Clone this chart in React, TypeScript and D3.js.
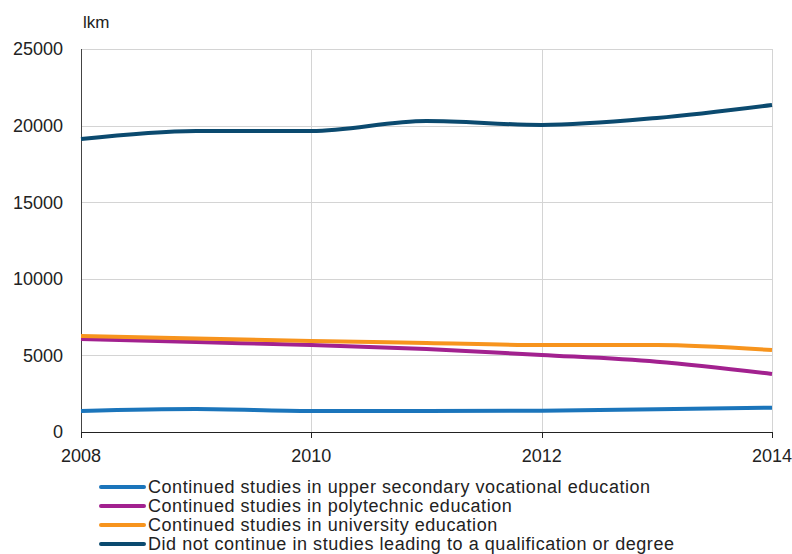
import * as d3 from "d3";
import { useEffect, useRef } from "react";

const years = [2008, 2009, 2010, 2011, 2012, 2013, 2014];
const vocational = [1370, 1500, 1370, 1370, 1390, 1480, 1590];
const polytechnic = [6070, 5870, 5680, 5420, 5030, 4590, 3790];
const university = [6270, 6100, 5940, 5810, 5680, 5680, 5350];
const notContinued = [19125, 19650, 19650, 20300, 20040, 20500, 21350];
const yTicks = [0, 5000, 10000, 15000, 20000, 25000];
const xTicks = [2008, 2010, 2012, 2014];

const series = [
  { name: "Continued studies in upper secondary vocational education", values: vocational, color: "#1b75bb" },
  { name: "Continued studies in polytechnic education", values: polytechnic, color: "#a2218f" },
  { name: "Continued studies in university education", values: university, color: "#f7941d" },
  { name: "Did not continue in studies leading to a qualification or degree", values: notContinued, color: "#0b4a6f" },
];

const width = 792;
const height = 554;
const font = "'Liberation Sans', Arial, sans-serif";

export default function App() {
  const ref = useRef<SVGSVGElement | null>(null);

  useEffect(() => {
    const svg = d3.select(ref.current);
    svg.selectAll("*").remove();

    const x = d3.scaleLinear().domain([2008, 2014]).range([81, 772]);
    const y = d3.scaleLinear().domain([0, 25000]).range([432, 49]);

    // grid
    const grid = svg.append("g").attr("stroke", "#d4d4d4").attr("stroke-width", 1);
    grid
      .selectAll("line.h")
      .data(yTicks.slice(1))
      .join("line")
      .attr("x1", x(2008))
      .attr("x2", x(2014))
      .attr("y1", (d) => Math.round(y(d)) + 0.5)
      .attr("y2", (d) => Math.round(y(d)) + 0.5);
    grid
      .selectAll("line.v")
      .data(xTicks.slice(1))
      .join("line")
      .attr("x1", (d) => Math.round(x(d)) + 0.5)
      .attr("x2", (d) => Math.round(x(d)) + 0.5)
      .attr("y1", y(25000))
      .attr("y2", y(0));

    // y labels
    svg
      .append("g")
      .selectAll("text")
      .data(yTicks)
      .join("text")
      .attr("x", 63)
      .attr("y", (d) => y(d))
      .attr("dy", "0.35em")
      .attr("text-anchor", "end")
      .attr("font-family", font)
      .attr("font-size", 18)
      .attr("fill", "#222")
      .text((d) => d);

    svg
      .append("text")
      .attr("x", 83)
      .attr("y", 28)
      .attr("font-family", font)
      .attr("font-size", 17)
      .attr("fill", "#222")
      .text("lkm");

    // axes lines
    svg
      .append("line")
      .attr("x1", 81.5)
      .attr("x2", 81.5)
      .attr("y1", y(25000))
      .attr("y2", y(0))
      .attr("stroke", "#444");
    svg
      .append("line")
      .attr("x1", x(2008))
      .attr("x2", x(2014) + 1)
      .attr("y1", 432.5)
      .attr("y2", 432.5)
      .attr("stroke", "#222");
    svg
      .append("g")
      .selectAll("line")
      .data(xTicks)
      .join("line")
      .attr("x1", (d) => Math.round(x(d)) + 0.5)
      .attr("x2", (d) => Math.round(x(d)) + 0.5)
      .attr("y1", 432)
      .attr("y2", 438)
      .attr("stroke", "#222");
    svg
      .append("g")
      .selectAll("text")
      .data(xTicks)
      .join("text")
      .attr("x", (d) => x(d))
      .attr("y", 462)
      .attr("text-anchor", "middle")
      .attr("font-family", font)
      .attr("font-size", 18)
      .attr("fill", "#222")
      .text((d) => d);

    // lines
    const line = d3
      .line<number>()
      .x((_, i) => x(years[i]))
      .y((d) => y(d))
      .curve(d3.curveMonotoneX);
    svg
      .append("g")
      .selectAll("path")
      .data(series)
      .join("path")
      .attr("d", (d) => line(d.values))
      .attr("fill", "none")
      .attr("stroke", (d) => d.color)
      .attr("stroke-width", 4)
      .attr("stroke-linejoin", "round");

    // legend
    const leg = svg
      .append("g")
      .selectAll("g")
      .data(series)
      .join("g")
      .attr("transform", (_, i) => `translate(0,${487 + i * 19})`);
    leg
      .append("line")
      .attr("x1", 101)
      .attr("x2", 144)
      .attr("stroke", (d) => d.color)
      .attr("stroke-width", 4)
      .attr("stroke-linecap", "round");
    leg
      .append("text")
      .attr("x", 148)
      .attr("dy", "0.35em")
      .attr("font-family", font)
      .attr("font-size", 18)
      .attr("letter-spacing", 0.55)
      .attr("fill", "#222")
      .text((d) => d.name);
  }, []);

  return (
    <div style={{ position: "fixed", left: 0, top: 0, width, height, overflow: "hidden" }}>
      <svg ref={ref} width={width} height={height} style={{ display: "block", background: "#fff" }} />
    </div>
  );
}
